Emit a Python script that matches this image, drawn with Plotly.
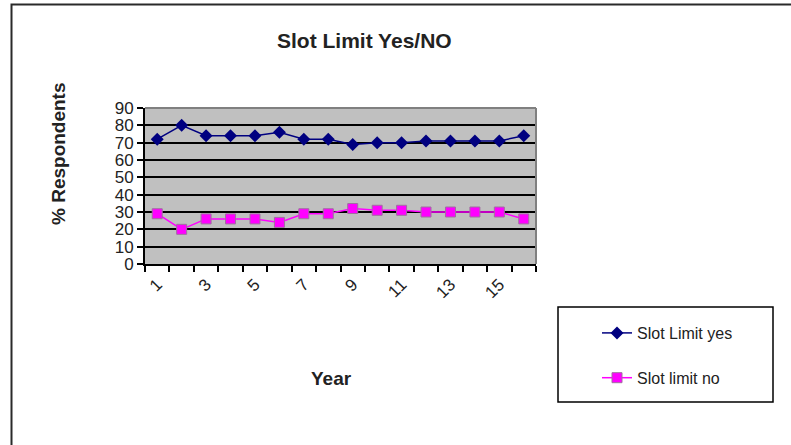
import plotly.graph_objects as go

years = list(range(1, 17))
slot_yes = [72, 80, 74, 74, 74, 76, 72, 72, 69, 70, 70, 71, 71, 71, 71, 74]
slot_no = [29, 20, 26, 26, 26, 24, 29, 29, 32, 31, 31, 30, 30, 30, 30, 26]
x_tick_labels = [1, 3, 5, 7, 9, 11, 13, 15]
y_ticks = [0, 10, 20, 30, 40, 50, 60, 70, 80, 90]

W, H = 791, 445
L, R, T, B = 145, 536, 108, 264  # plot area in pixels


def px(xp):
    return (xp - L) / (R - L)


def py(yp):
    return (B - yp) / (B - T)


FONT = "Liberation Sans, Arial, sans-serif"
TXT = "#222222"

fig = go.Figure()
fig.add_trace(go.Scatter(
    x=years, y=slot_yes, name="Slot Limit yes", mode="lines+markers",
    line=dict(color="#000080", width=1.5),
    marker=dict(symbol="diamond", size=10, color="#000080"),
    legendgroup="a",
))
fig.add_trace(go.Scatter(
    x=years, y=slot_no, name="Slot limit no", mode="lines+markers",
    line=dict(color="#FF00FF", width=1.5),
    marker=dict(symbol="square", size=10, color="#FF00FF",
                line=dict(color="#A070A0", width=1)),
    legendgroup="b",
))

fig.update_layout(
    width=W, height=H,
    margin=dict(l=L, r=W - R, t=T, b=H - B, pad=0),
    paper_bgcolor="white", plot_bgcolor="#C0C0C0",
    font=dict(family=FONT, color=TXT),
    showlegend=True,
    legend=dict(
        x=px(597), y=py(316), xanchor="left", yanchor="top",
        bgcolor="rgba(0,0,0,0)", borderwidth=0,
        font=dict(size=16, color=TXT),
        tracegroupgap=21, traceorder="grouped",
    ),
    xaxis=dict(
        range=[0.5, 16.5], tickvals=x_tick_labels, ticktext=[str(v) for v in x_tick_labels],
        ticks="", tickangle=-45, showgrid=False, zeroline=False,
        showline=True, linecolor="black", linewidth=2,
        tickfont=dict(size=17, color=TXT),
        ticklabelstandoff=2,
        minor=dict(tick0=0.5, dtick=1, ticks="outside", ticklen=6,
                   tickwidth=2, tickcolor="black", showgrid=False),
        fixedrange=True,
    ),
    yaxis=dict(
        range=[0, 90], tickvals=y_ticks, ticks="outside", ticklen=6,
        tickwidth=2, tickcolor="black",
        showgrid=True, gridcolor="black", gridwidth=2, zeroline=False,
        showline=True, linecolor="black", linewidth=2,
        tickfont=dict(size=17, color=TXT),
        fixedrange=True,
    ),
    shapes=[
        # outer chart frame
        dict(type="rect", xref="paper", yref="paper",
             x0=px(11.5), x1=px(820), y0=py(470), y1=py(4.5),
             line=dict(color="#2a2a2a", width=2), fillcolor="rgba(0,0,0,0)", layer="above"),
        # plot area border (top/right)
        dict(type="line", xref="paper", yref="paper", x0=0, x1=1, y0=1, y1=1,
             line=dict(color="#808080", width=2), layer="above"),
        dict(type="line", xref="paper", yref="paper", x0=1, x1=1, y0=0, y1=1,
             line=dict(color="#808080", width=2), layer="above"),
        # legend box
        dict(type="rect", xref="paper", yref="paper",
             x0=px(558), x1=px(773), y0=py(402), y1=py(307),
             line=dict(color="black", width=1.5), fillcolor="rgba(0,0,0,0)"),
    ],
    annotations=[
        dict(text="<b>Slot Limit Yes/NO</b>", xref="paper", yref="paper",
             x=px(364), y=py(40), xanchor="center", yanchor="middle",
             showarrow=False, font=dict(size=21, color=TXT)),
        dict(text="<b>Year</b>", xref="paper", yref="paper",
             x=px(331), y=py(378), xanchor="center", yanchor="middle",
             showarrow=False, font=dict(size=19, color=TXT)),
        dict(text="<b>% Respondents</b>", xref="paper", yref="paper",
             x=px(58), y=py(154), xanchor="center", yanchor="middle",
             showarrow=False, textangle=-90,
             font=dict(size=19, color=TXT)),
    ],
)

fig.write_html("out.html", config={"displayModeBar": False},
               post_script="document.body.style.margin='0px';")
